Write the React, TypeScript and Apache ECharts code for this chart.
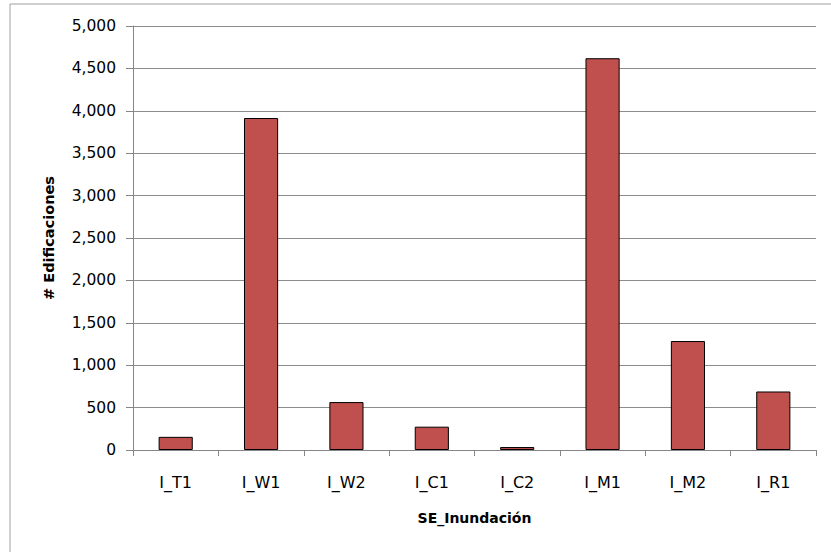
import React, { useEffect, useRef } from "react";
import * as echarts from "echarts";

const categories = ["I_T1", "I_W1", "I_W2", "I_C1", "I_C2", "I_M1", "I_M2", "I_R1"];
const edificaciones = [155, 3915, 565, 275, 35, 4620, 1285, 690];
const yTicks = { min: 0, max: 5000, interval: 500 };

const FONT = "DejaVu Sans";

export default function App() {
  const ref = useRef<HTMLDivElement>(null);
  useEffect(() => {
    document.body.style.margin = "0";
    const chart = echarts.init(ref.current!, null, { renderer: "svg" });
    chart.setOption({
      animation: false,
      backgroundColor: "#ffffff",
      textStyle: { fontFamily: FONT, color: "#000" },
      graphic: [
        {
          type: "rect",
          shape: { x: 10, y: 4, width: 900, height: 700 },
          style: { fill: "none", stroke: "#a0a0a0", lineWidth: 1 },
          silent: true,
        },
      ],
      grid: { left: 133, right: 15, top: 26, bottom: 102 },
      xAxis: {
        type: "category",
        data: categories,
        name: "SE_Inundación",
        nameLocation: "middle",
        nameGap: 61,
        nameTextStyle: { fontFamily: FONT, fontWeight: "bold", fontSize: 14, color: "#000", verticalAlign: "top" },
        axisLine: { lineStyle: { color: "#868686", width: 1 } },
        axisTick: { show: true, length: 6, lineStyle: { color: "#868686" } },
        axisLabel: { fontFamily: FONT, fontSize: 16, color: "#000", margin: 24 },
      },
      yAxis: {
        type: "value",
        min: yTicks.min,
        max: yTicks.max,
        interval: yTicks.interval,
        name: "# Edificaciones",
        nameLocation: "middle",
        nameGap: 77,
        nameTextStyle: { fontFamily: FONT, fontWeight: "bold", fontSize: 14.5, color: "#000" },
        axisLine: { show: true, lineStyle: { color: "#868686", width: 1 } },
        axisTick: { show: true, length: 7, lineStyle: { color: "#868686" } },
        axisLabel: {
          fontFamily: FONT,
          fontSize: 15.5,
          color: "#000",
          margin: 17,
          formatter: (v: number) => v.toLocaleString("en-US"),
        },
        splitLine: { show: true, lineStyle: { color: "#8c8c8c", width: 1 } },
      },
      series: [
        {
          type: "bar",
          data: edificaciones,
          barWidth: "40%",
          itemStyle: { color: "#C0504D", borderColor: "#000000", borderWidth: 1 },
        },
      ],
    });
    return () => chart.dispose();
  }, []);
  return <div ref={ref} style={{ width: 831, height: 552 }} />;
}
